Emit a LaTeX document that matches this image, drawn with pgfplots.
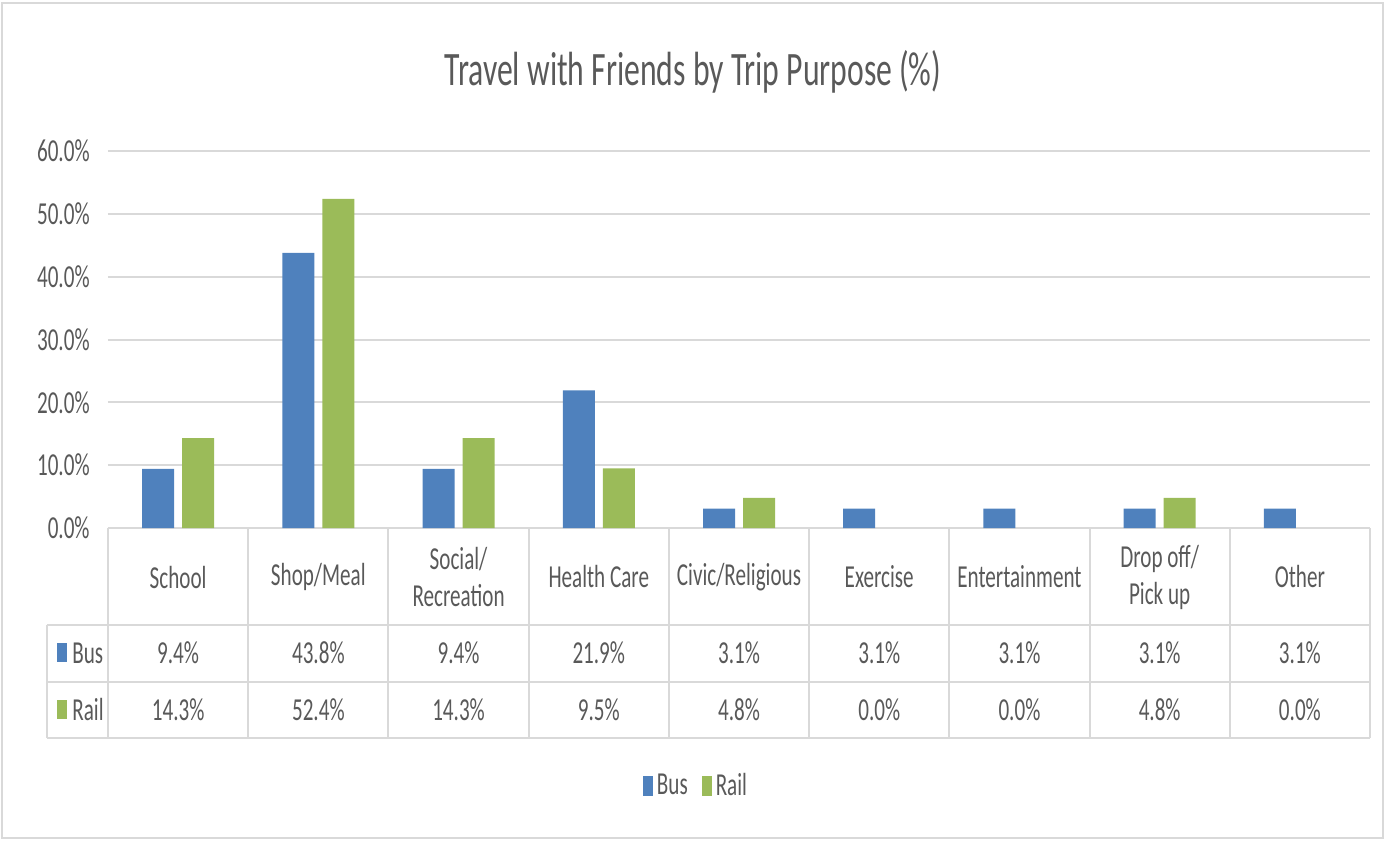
\documentclass[border=0pt]{standalone}
\usepackage{pgfplots}
\pgfplotsset{compat=1.18}
\usepackage{fontspec}
\setmainfont[FakeStretch=0.66]{Carlito}
\definecolor{busc}{HTML}{4F81BD}
\definecolor{railc}{HTML}{9BBB59}
\definecolor{gridc}{HTML}{D9D9D9}
\definecolor{txt}{HTML}{595959}
\newcommand{\tf}{\fontsize{16}{18.5}\selectfont}
\begin{document}
\begin{tikzpicture}
\begin{axis}[
  scale only axis, width=631pt, height=188.5pt,
  ymin=0, ymax=60, xmin=-0.5, xmax=8.5,
  ybar=4pt, bar width=16pt,
  axis lines*=left,
  y axis line style={draw=none},
  x axis line style={gridc, line width=1pt},
  xtick=\empty,
  ytick={0,10,20,30,40,50,60},
  yticklabels={0.0\%,10.0\%,20.0\%,30.0\%,40.0\%,50.0\%,60.0\%},
  major tick length=0pt,
  ymajorgrids, grid style={gridc, line width=1pt},
  yticklabel style={font=\tf, text=txt, inner sep=0pt, anchor=east, xshift=-9pt},
  legend style={at={(0.4667,-0.684)}, anchor=center, draw=none, fill=none,
    legend columns=-1, font=\tf, text=txt,
    /tikz/every even column/.append style={column sep=5pt}},
  legend image code/.code={\fill[#1] (0pt,-5pt) rectangle (5pt,5pt);},
]
\addplot[fill=busc, draw=none] coordinates {(0,9.4) (1,43.8) (2,9.4) (3,21.9) (4,3.1) (5,3.1) (6,3.1) (7,3.1) (8,3.1)};
\addlegendentry{Bus}
\addplot[fill=railc, draw=none, restrict y to domain=0.01:100] coordinates {(0,14.3) (1,52.4) (2,14.3) (3,9.5) (4,4.8) (5,0) (6,0) (7,4.8) (8,0)};
\addlegendentry{Rail}
\end{axis}
\begin{scope}[x=0.5pt, y=-0.5pt, shift={(-54pt,264pt)}]
  \path (0,0) rectangle (1386,841);
  \draw[gridc, line width=1pt] (2,3) rectangle (1383,838);
  \node[font=\fontsize{24}{27}\selectfont, text=txt] at (693,72) {Travel with Friends by Trip Purpose (\%)};
  % table grid
  \draw[gridc, line width=1pt] (47,625) -- (1370,625);
  \draw[gridc, line width=1pt] (47,682) -- (1370,682);
  \draw[gridc, line width=1pt] (47,738) -- (1370,738);
  \draw[gridc, line width=1pt] (47,625) -- (47,738);
  \foreach \i in {0,...,9} {
    \draw[gridc, line width=1pt] ({108+140.222*\i},528) -- ({108+140.222*\i},738);
  }
  % header
  \foreach \lab [count=\k from 0] in {School,Shop/Meal,{Social/\\Recreation},Health Care,Civic/Religious,Exercise,Entertainment,{Drop off/\\Pick up},Other} {
    \node[font=\tf, text=txt, align=center] at ({108+140.222*(\k+0.5)},577) {\lab};
  }
  \foreach \v [count=\k from 0] in {9.4\%,43.8\%,9.4\%,21.9\%,3.1\%,3.1\%,3.1\%,3.1\%,3.1\%} {
    \node[font=\tf, text=txt] at ({108+140.222*(\k+0.5)},653) {\v};
  }
  \foreach \v [count=\k from 0] in {14.3\%,52.4\%,14.3\%,9.5\%,4.8\%,0.0\%,0.0\%,4.8\%,0.0\%} {
    \node[font=\tf, text=txt] at ({108+140.222*(\k+0.5)},710) {\v};
  }
  \fill[busc] (57,643) rectangle (67,662);
  \fill[railc] (57,700) rectangle (67,719);
  \node[font=\tf, text=txt, anchor=west, inner sep=0pt] at (72,653) {Bus};
  \node[font=\tf, text=txt, anchor=west, inner sep=0pt] at (72,710) {Rail};
\end{scope}
\end{tikzpicture}
\end{document}
